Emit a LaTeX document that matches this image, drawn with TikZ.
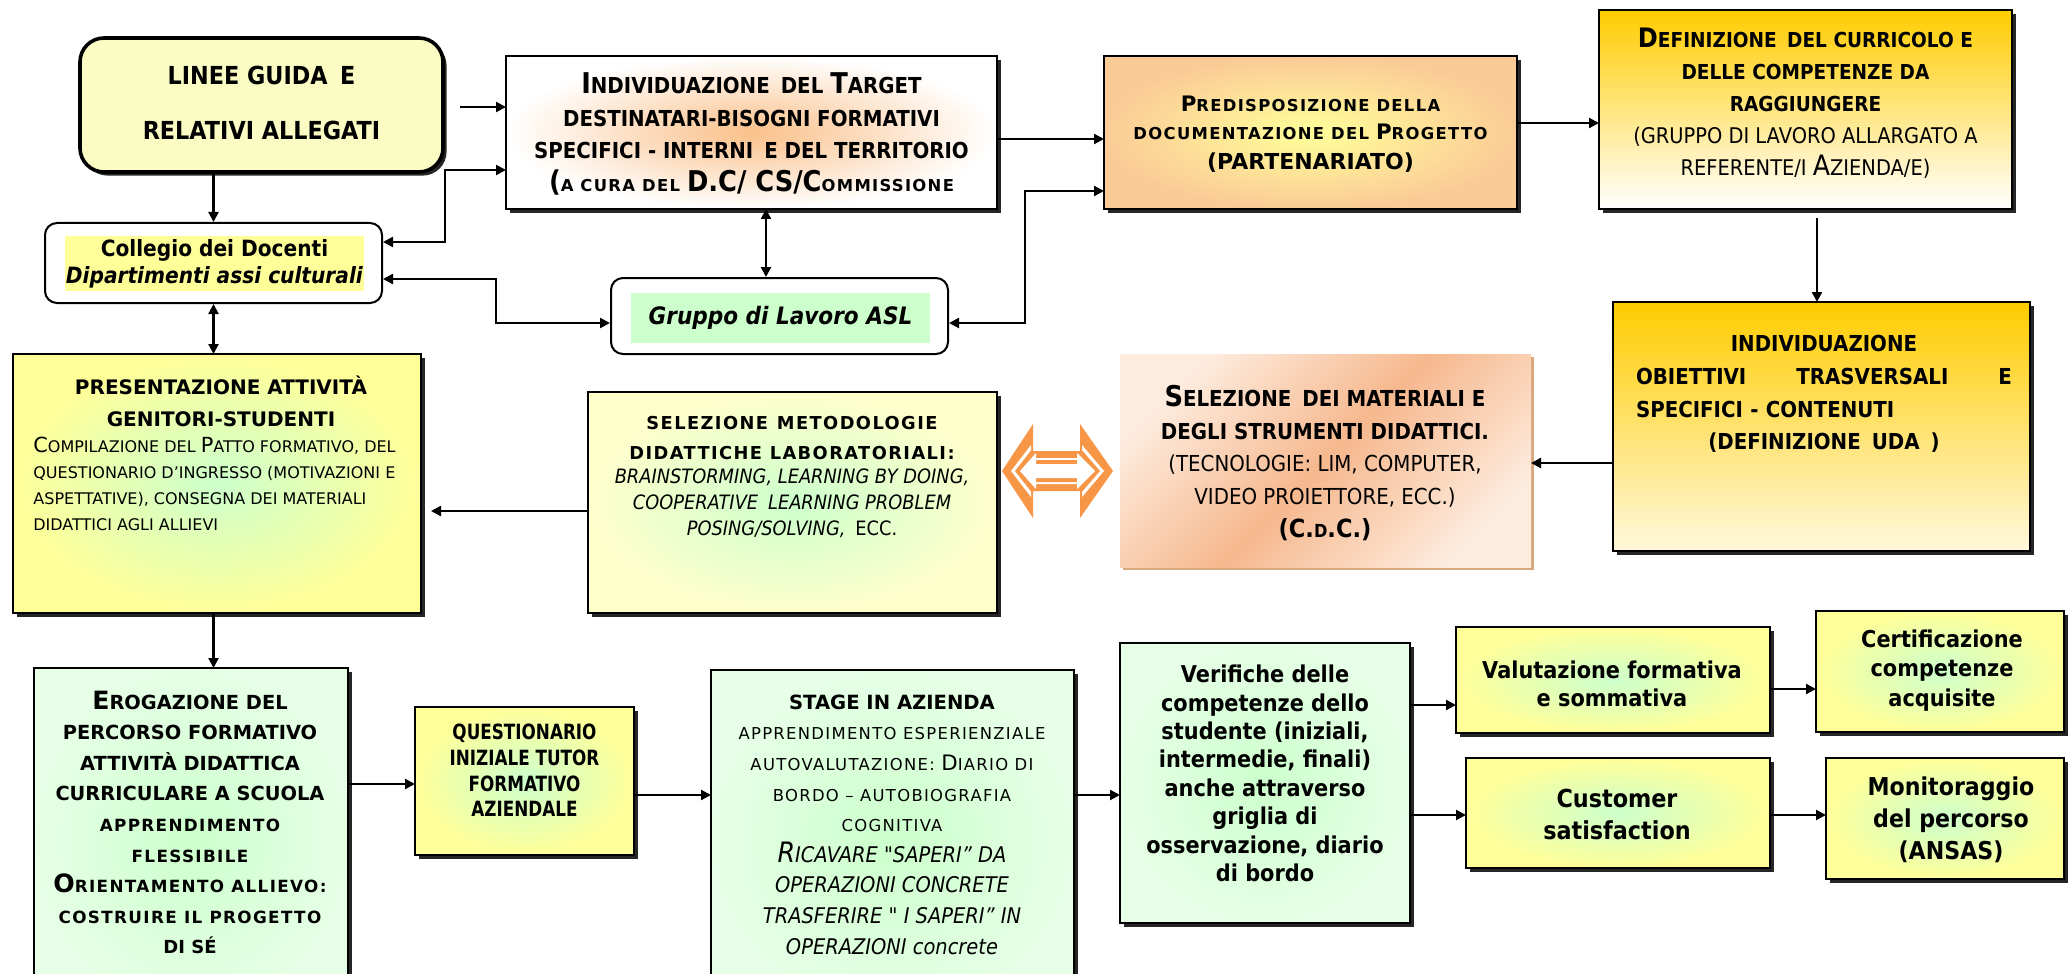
\documentclass[tikz,border=0pt]{standalone}
\usepackage{fontspec}
\setmainfont{DejaVu Sans}
\newfontfamily\tah{DejaVu Sans}[FakeStretch=0.9]
\newfontfamily\cnd{DejaVu Sans}[FakeStretch=0.8]
\newfontfamily\spc{DejaVu Sans}[LetterSpace=8]
\usetikzlibrary{arrows.meta,calc,shadows}
\definecolor{yel}{HTML}{FFFF99}
\definecolor{lgreen}{HTML}{CCFFCC}
\definecolor{pgreen}{HTML}{E6FFE6}
\definecolor{lyel}{HTML}{FFFFCC}
\definecolor{linf}{HTML}{FAFCC4}
\definecolor{orglow}{HTML}{FAC08A}
\definecolor{peach}{HTML}{FBCB97}
\definecolor{gold}{HTML}{FFCC00}
\definecolor{cream}{HTML}{FFF8DC}
\definecolor{paleor}{HTML}{FDEBDD}
\definecolor{darkor}{HTML}{F6B88E}
\definecolor{tan}{HTML}{D8A77E}
\definecolor{arrorange}{HTML}{F79646}
\newcommand\Bg[1]{\scalebox{1.3}{#1}}
\newcommand\fs[2]{\fontsize{#1}{#2}\selectfont}
\begin{document}
\begin{tikzpicture}[x=0.5pt,y=-0.5pt,
  box/.style={draw=black, line width=1.3pt, inner sep=0pt, outer sep=0pt,
    general shadow={fill=black!85, shadow xshift=1.8pt, shadow yshift=-1.8pt}},
  ygl/.style={box, inner color=lgreen, outer color=yel},
  ggl/.style={box, inner color=lgreen, outer color=pgreen},
  txt/.style={inner sep=0pt, align=center, text=black},
  arr/.style={line width=1.1pt, -{Triangle[length=5pt,width=5pt]}},
  darr/.style={line width=1.1pt, {Triangle[length=5pt,width=5pt]}-{Triangle[length=5pt,width=5pt]}}]
\clip (0,0) rectangle (2069,974);
\fill[white] (0,0) rectangle (2069,974);

% ---------- boxes ----------
\node[box, rounded corners=12pt, fill=linf, line width=1.8pt, minimum width=181.5pt, minimum height=67pt] (lin) at (261.5,105) {};
\node[draw=black, line width=1pt, rounded corners=6pt, fill=white, minimum width=168.5pt, minimum height=40pt, inner sep=0pt] (coll) at (213.5,263) {};
\node[box, inner color=orglow, outer color=white, minimum width=245.5pt, minimum height=76.5pt] (ind) at (751.5,132.5) {};
\node[box, inner color=yel, outer color=peach, minimum width=206.5pt, minimum height=76.5pt] (pred) at (1310.5,132.5) {};
\node[box, top color=gold, bottom color=white, minimum width=206.5pt, minimum height=99.5pt] (def) at (1805.5,109.5) {};
\node[draw=black, line width=1pt, rounded corners=6pt, fill=white, minimum width=168.5pt, minimum height=38pt, inner sep=0pt] (grp) at (779.5,316) {};
\node[ygl, minimum width=204pt, minimum height=129.5pt] (pres) at (217,483.5) {};
\node[box, inner color=lgreen, outer color=lyel, minimum width=204.5pt, minimum height=110.5pt] (met) at (792.5,502.5) {};
\node[inner sep=0pt, outer sep=0pt, top color=paleor, bottom color=paleor, middle color=darkor, shading angle=45,
  general shadow={fill=tan, shadow xshift=1.5pt, shadow yshift=-1.5pt}, minimum width=205.5pt, minimum height=106.5pt] (mat) at (1325.5,460.5) {};
\node[box, top color=gold, bottom color=cream, minimum width=208.5pt, minimum height=124.5pt] (obj) at (1821.5,426.5) {};
\node[ggl, minimum width=157pt, minimum height=171pt] (erog) at (191,839) {};
\node[ygl, minimum width=109.5pt, minimum height=74pt] (quest) at (524.5,781) {};
\node[ggl, minimum width=181.5pt, minimum height=170pt] (stage) at (892.5,840) {};
\node[ggl, minimum width=145pt, minimum height=140pt] (verif) at (1265,783) {};
\node[ygl, minimum width=157pt, minimum height=53pt] (val) at (1613,680) {};
\node[ygl, minimum width=124pt, minimum height=60.5pt] (cert) at (1940,671.5) {};
\node[ygl, minimum width=152pt, minimum height=55pt] (cust) at (1618,813) {};
\node[ygl, minimum width=119pt, minimum height=60.5pt] (mon) at (1945,818.5) {};

% ---------- orange double arrow ----------
\fill[arrorange] (1002,471) -- (1033,424) -- (1033,451) -- (1080,451) -- (1080,424) -- (1113,471) -- (1080,518) -- (1080,491) -- (1033,491) -- (1033,518) -- cycle;
\fill[white] (1011,471) -- (1031,445) -- (1031,458) -- (1082,458) -- (1082,445) -- (1104,471) -- (1082,497) -- (1082,484) -- (1031,484) -- (1031,497) -- cycle;
\fill[arrorange] (1015,471) -- (1033,448) -- (1033,460) -- (1080,460) -- (1080,448) -- (1100,471) -- (1080,494) -- (1080,482) -- (1033,482) -- (1033,494) -- cycle;
\fill[white] (1020,471) -- (1036,453) -- (1036,464) -- (1077,464) -- (1077,453) -- (1095,471) -- (1077,489) -- (1077,478) -- (1036,478) -- (1036,489) -- cycle;

% ---------- texts ----------
\node[txt, font=\tah\bfseries\fs{12.4}{27.5}] (lin-t) at (261.5,103) {LINEE GUIDA\enspace E\\RELATIVI ALLEGATI};
\node[txt, fill=yel, minimum width=149.5pt, minimum height=27.5pt, font=\tah\bfseries\fs{11.2}{13.5}] (coll-t) at (214.5,263.5) {Collegio dei Docenti\\\textit{Dipartimenti assi culturali}};
\node[txt, font=\tah\bfseries\fs{11}{16.3}] (ind-t) at (751.5,134) {\Bg{I}NDIVIDUAZIONE\enspace DEL \Bg{T}ARGET\\DESTINATARI-BISOGNI FORMATIVI\\SPECIFICI - INTERNI\enspace E DEL TERRITORIO\\\Bg{(}{\spc\fs{8.2}{16.3}A CURA DEL }\Bg{D.C/ CS/C}{\spc\fs{8.2}{16.3}OMMISSIONE}};
\node[txt, font=\spc\bfseries\fs{8.2}{14}] (pred-t) at (1310.5,134.5) {\Bg{P}REDISPOSIZIONE DELLA\\DOCUMENTAZIONE DEL \Bg{P}ROGETTO\\[1pt]{\rmfamily\fs{11}{14}(PARTENARIATO)}};
\node[txt, font=\tah\bfseries\fs{10.3}{16}] (def-t) at (1805.5,103) {\Bg{D}EFINIZIONE\enspace DEL CURRICOLO E\\DELLE COMPETENZE DA\\RAGGIUNGERE\\{\mdseries\fs{10.8}{16}(GRUPPO DI LAVORO ALLARGATO A}\\{\mdseries\fs{10.8}{16}REFERENTE/I \Bg{A}ZIENDA/E)}};
\node[txt, fill=lgreen, minimum width=149.5pt, minimum height=25pt, font=\tah\bfseries\itshape\fs{12}{14}] (grp-t) at (780.5,318) {Gruppo di Lavoro ASL};
\node[txt, font=\bfseries\fs{10}{16}] (pres-t1) at (221,401) {PRESENTAZIONE ATTIVITÀ\\GENITORI-STUDENTI};
\node[txt, anchor=west, align=left, font=\fs{8}{13}] (pres-t2) at (33,483.5) {\Bg{C}OMPILAZIONE DEL \Bg{P}ATTO FORMATIVO, DEL\\QUESTIONARIO D’INGRESSO (MOTIVAZIONI E\\ASPETTATIVE), CONSEGNA DEI MATERIALI\\DIDATTICI AGLI ALLIEVI};
\node[txt, font=\spc\bfseries\fs{8.9}{15}] (met-t1) at (792,438) {SELEZIONE\enspace METODOLOGIE\\DIDATTICHE LABORATORIALI:};
\node[txt, font=\tah\itshape\fs{9.9}{13}] (met-t2) at (792,503) {BRAINSTORMING, LEARNING BY DOING,\\COOPERATIVE\enspace LEARNING PROBLEM\\POSING/SOLVING,\enspace {\upshape ECC.}};
\node[txt, font=\tah\bfseries\fs{11}{16.3}] (mat-t) at (1325,463) {\Bg{S}ELEZIONE\enspace DEI MATERIALI E\\DEGLI STRUMENTI DIDATTICI.\\{\mdseries (TECNOLOGIE: LIM, COMPUTER,}\\{\mdseries VIDEO PROIETTORE, ECC.)}\\{\fs{12.5}{16.3}(C.{\fs{9}{16.3}D}.C.)}};
\node[txt, align=left, text width=188pt, font=\tah\bfseries\fs{11}{16.3}] (obj-t) at (1824,394) {\hspace*{\fill}INDIVIDUAZIONE\hspace*{\fill}\null\\OBIETTIVI\hfill TRASVERSALI\hfill E\null\\SPECIFICI - CONTENUTI\\\hspace*{\fill}(DEFINIZIONE\enspace UDA\enspace )\hspace*{\fill}\null};
\node[txt, font=\bfseries\fs{9.7}{15.3}] (erog-t) at (190,822.5) {\Bg{E}ROGAZIONE DEL\\PERCORSO FORMATIVO\\ATTIVITÀ DIDATTICA\\CURRICULARE A SCUOLA\\{\spc\fs{8.4}{15.3}APPRENDIMENTO}\\{\spc\fs{8.4}{15.3}FLESSIBILE}\\\Bg{O}{\spc\fs{8.4}{15.3}RIENTAMENTO ALLIEVO:}\\{\spc\fs{8.4}{15.3}COSTRUIRE IL PROGETTO}\\{\fs{9}{15.3}DI SÉ}};
\node[txt, font=\cnd\bfseries\fs{10.5}{12.9}] (quest-t) at (524.5,770.5) {QUESTIONARIO\\INIZIALE TUTOR\\FORMATIVO\\AZIENDALE};
\node[txt, font=\spc\fs{8.2}{15.3}] (stage-t) at (892,824.5) {{\rmfamily\bfseries\fs{9.8}{15.3}STAGE IN AZIENDA}\\APPRENDIMENTO ESPERIENZIALE\\AUTOVALUTAZIONE: \Bg{D}IARIO DI\\BORDO – AUTOBIOGRAFIA\\COGNITIVA\\{\tah\itshape\fs{10.8}{15.3}\Bg{R}ICAVARE "SAPERI” DA}\\{\tah\itshape\fs{10.8}{15.3}OPERAZIONI CONCRETE}\\{\tah\itshape\fs{10.8}{15.3}TRASFERIRE " I SAPERI” IN}\\{\tah\itshape\fs{10.8}{15.3}OPERAZIONI concrete}};
\node[txt, font=\tah\bfseries\fs{11.6}{14.2}] (verif-t) at (1265,773.5) {Verifiche delle\\competenze dello\\studente (iniziali,\\intermedie, finali)\\anche attraverso\\griglia di\\osservazione, diario\\di bordo};
\node[txt, font=\tah\bfseries\fs{11.6}{14}] (val-t) at (1612,684) {Valutazione formativa\\e sommativa};
\node[txt, font=\tah\bfseries\fs{11.6}{14.7}] (cert-t) at (1942,670.5) {Certificazione\\competenze\\acquisite};
\node[txt, font=\tah\bfseries\fs{12.4}{16}] (cust-t) at (1617,814) {Customer\\satisfaction};
\node[txt, font=\tah\bfseries\fs{12.3}{16}] (mon-t) at (1951,820) {Monitoraggio\\del percorso\\(ANSAS)};

% ---------- connectors ----------
\coordinate (s1) at (460,107);
\draw[arr] (s1) -- (s1 -| ind.west);
\coordinate (c1) at ($(coll.east)+(0,-21)$);
\coordinate (i1) at ($(ind.west)+(0,37.5)$);
\draw[darr] (c1) -| ($(i1)+(-61,0)$) -- (i1);
\coordinate (c2) at ($(coll.east)+(0,16)$);
\coordinate (g1) at ($(grp.west)+(0,7)$);
\draw[darr] (c2) -| ($(g1)+(-114,0)$) -- (g1);
\draw[arr] (lin.south -| coll.north) -- (coll.north);
\draw[darr] (coll.south) -- (coll.south |- pres.north);
\draw[arr] (pres.south -| coll.south) -- (erog.north -| coll.south);
\coordinate (i2) at ($(ind.south)+(14.5,0)$);
\draw[darr] (i2) -- (i2 |- grp.north);
\coordinate (i3) at ($(ind.east)+(0,6.5)$);
\draw[arr] (i3) -- (i3 -| pred.west);
\coordinate (g2) at ($(grp.east)+(0,7)$);
\coordinate (p1) at ($(pred.west)+(0,58.5)$);
\draw[darr] (g2) -| ($(p1)+(-79,0)$) -- (p1);
\coordinate (p2) at ($(pred.east)+(0,-9.5)$);
\draw[arr] (p2) -- (p2 -| def.west);
\coordinate (d1) at ($(def.south)+(11.5,9)$);
\draw[arr] (d1) -- (d1 |- obj.north);
\coordinate (o1) at ($(obj.west)+(0,36.5)$);
\draw[arr] (o1) -- (o1 -| mat.east);
\coordinate (m1) at ($(met.west)+(0,8.5)$);
\draw[arr] (m1) -- ($(m1 -| pres.east)+(10,0)$);
\coordinate (q1) at ($(quest.west)+(0,3)$);
\draw[arr] (q1 -| erog.east) -- (q1);
\coordinate (q2) at ($(quest.east)+(0,14)$);
\draw[arr] (q2) -- (q2 -| stage.west);
\coordinate (v0) at ($(verif.west)+(0,12)$);
\draw[arr] (v0 -| stage.east) -- (v0);
\coordinate (v1) at ($(val.west)+(0,25)$);
\draw[arr] (v1 -| verif.east) -- (v1);
\coordinate (v2) at ($(val.east)+(0,9)$);
\draw[arr] (v2) -- (v2 -| cert.west);
\coordinate (v3) at ($(cust.west)+(0,2)$);
\draw[arr] (v3 -| verif.east) -- (v3);
\coordinate (v4) at ($(cust.east)+(0,2)$);
\draw[arr] (v4) -- (v4 -| mon.west);
\end{tikzpicture}
\end{document}
